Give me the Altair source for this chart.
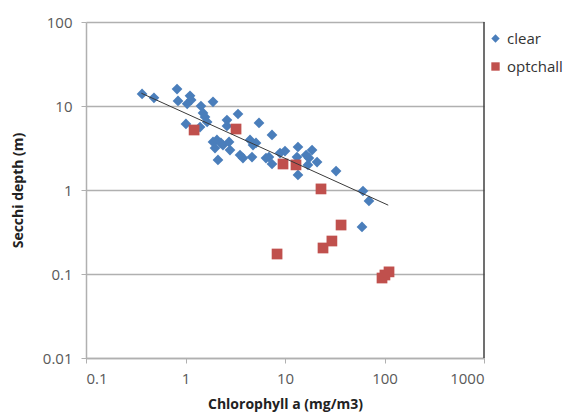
import altair as alt
import pandas as pd

# ---- data ----
clear_x = [0.366, 0.482, 0.822, 0.841, 1.11, 1.14, 1.04, 1.43, 1.89, 1.50, 1.57, 1.65,
           1.01, 1.40, 2.61, 2.61, 3.37, 1.89, 2.07, 2.27, 1.98, 2.38, 2.74, 2.80, 2.12,
           5.48, 7.40, 4.45, 5.11, 4.77, 3.53, 3.78, 4.66, 6.44, 6.90, 7.40, 8.91, 10.0,
           13.5, 13.2, 16.3, 17.4, 18.7, 21.0, 17.0, 13.5, 32.6, 60.8, 69.8, 59.4]
clear_y = [13.9, 12.5, 15.9, 11.5, 13.2, 11.8, 10.6, 10.0, 11.2, 8.26, 7.40, 6.45,
           6.11, 5.62, 6.81, 5.78, 8.03, 3.73, 3.94, 3.63, 3.16, 3.43, 3.73, 2.99, 2.28,
           6.28, 4.52, 3.94, 3.63, 3.43, 2.61, 2.40, 2.47, 2.40, 2.47, 2.04, 2.75, 2.91,
           3.25, 2.47, 2.61, 2.40, 2.99, 2.15, 1.99, 1.51, 1.68, 0.973, 0.740, 0.363]

opt_x = [1.22, 3.22, 9.55, 12.9, 23.0, 36.6, 29.6, 24.1, 8.32, 94.4, 101, 111]
opt_y = [5.18, 5.32, 2.04, 1.99, 1.03, 0.383, 0.247, 0.204, 0.173, 0.0896, 0.0973, 0.106]

trend_x = [0.36, 109]
trend_y = [14.2, 0.66]

x_ticks = [0.1, 1, 10, 100, 1000]
y_ticks = [0.01, 0.1, 1, 10, 100]

series_names = ["clear", "optchall"]
series_colors = ["#4a7ebb", "#c0504d"]
series_shapes = ["diamond", "square"]

FONT = "Open Sans"

df = pd.DataFrame({
    "chl": clear_x + opt_x,
    "secchi": clear_y + opt_y,
    "series": ["clear"] * len(clear_x) + ["optchall"] * len(opt_x),
})
trend_df = pd.DataFrame({"chl": trend_x, "secchi": trend_y})
border_df = pd.DataFrame({"chl": [1000], "y1": [0.01], "y2": [100]})

xscale = alt.Scale(type="log", domain=[0.1, 1000], nice=False)
yscale = alt.Scale(type="log", domain=[0.01, 100], nice=False)

xaxis = alt.Axis(values=x_ticks, format="~g", title="Chlorophyll a (mg/m3)", grid=False,
                 tickSize=5, labelPadding=8, titleY=46, titleBaseline="middle")
yaxis = alt.Axis(values=y_ticks, format="~g", title="Secchi depth (m)", grid=True,
                 tickSize=5, labelPadding=9, titleX=-68, titleY=168,
                 titleAngle=270, titleAlign="center", titleBaseline="middle")

points = alt.Chart(df).mark_point(filled=True, opacity=1, size=115).encode(
    x=alt.X("chl:Q", scale=xscale, axis=xaxis),
    y=alt.Y("secchi:Q", scale=yscale, axis=yaxis),
    color=alt.Color("series:N", scale=alt.Scale(domain=series_names, range=series_colors),
                    legend=alt.Legend(title=None, orient="none", legendX=402, legendY=9,
                                      symbolSize=70, rowPadding=12, labelFontSize=15,
                                      labelFont=FONT, labelColor="#333333")),
    shape=alt.Shape("series:N", scale=alt.Scale(domain=series_names, range=series_shapes),
                    legend=None),
    order=alt.Order("series:N"),
)

trend = alt.Chart(trend_df).mark_line(color="#3a3a3a", strokeWidth=1).encode(
    x=alt.X("chl:Q", scale=xscale),
    y=alt.Y("secchi:Q", scale=yscale),
)

border = alt.Chart(border_df).mark_rule(color="#404040", strokeWidth=1.5).encode(
    x=alt.X("chl:Q", scale=xscale),
    y=alt.Y("y1:Q", scale=yscale),
    y2="y2:Q",
)

chart = alt.layer(points, trend, border).properties(
    width=398, height=336,
    autosize=alt.AutoSizeParams(type="none"),
    padding={"left": 78, "top": 14, "right": 86, "bottom": 58},
).configure_view(stroke=None).configure_axis(
    labelFont=FONT, labelFontSize=15, labelColor="#595959",
    titleFont=FONT, titleFontSize=14, titleFontWeight="bold", titleColor="#222222",
    domainColor="#b0b0b0", tickColor="#b0b0b0", gridColor="#b0b0b0",
    domainWidth=1.5, gridWidth=1.5,
)

chart.save("out.html", embed_options={"renderer": "svg", "actions": False})
